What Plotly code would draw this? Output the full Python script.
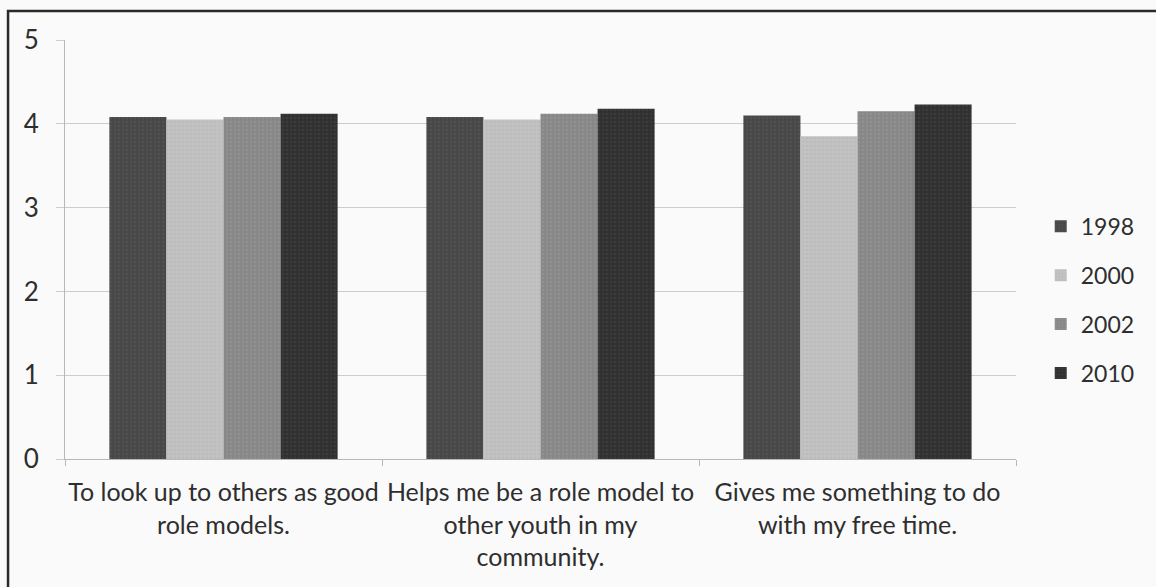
import plotly.graph_objects as go

categories = [
    "To look up to others as good<br>role models.",
    "Helps me be a role model to<br>other youth in my<br>community.",
    "Gives me something to do<br>with my free time.",
]
years = ["1998", "2000", "2002", "2010"]
values_1998 = [4.08, 4.08, 4.10]
values_2000 = [4.05, 4.05, 3.85]
values_2002 = [4.08, 4.12, 4.15]
values_2010 = [4.12, 4.18, 4.23]
series_values = [values_1998, values_2000, values_2002, values_2010]
bar_colors = ["#474747", "#c2c2c2", "#878787", "#303030"]
grain_colors = ["#5a5a5a", "#b3b3b3", "#999999", "#454545"]

FONT = "Lato"
TEXT = "#2e2e2e"
fig = go.Figure()
for year, vals, col, grain in zip(years, series_values, bar_colors, grain_colors):
    fig.add_trace(go.Bar(
        x=categories, y=vals, name=year, legendgroup=year,
        marker=dict(color=col, line=dict(width=0),
                    pattern=dict(shape=".", fgcolor=grain, size=4, solidity=0.3)),
    ))

fig.update_layout(
    width=1156, height=587,
    margin=dict(l=65, r=140, t=40, b=128),
    paper_bgcolor="#fafafa", plot_bgcolor="#fafafa",
    barmode="group", bargap=0.28, bargroupgap=0,
    font=dict(family=FONT, size=25, color=TEXT),
    showlegend=True,
    legend=dict(x=1.026, xanchor="left", y=0.38, yanchor="middle",
                font=dict(size=23, color=TEXT), tracegroupgap=16,
                bgcolor="rgba(0,0,0,0)", itemwidth=30),
    shapes=[dict(type="rect", xref="paper", yref="paper",
                 x0=-0.0599, y0=-0.5, x1=1.3, y1=1.069,
                 line=dict(color="#2a2a2a", width=2.5))],
)
fig.update_xaxes(
    showline=True, linecolor="#b8b8b8", linewidth=1,
    ticks="outside", tickson="boundaries", ticklen=6, tickcolor="#b8b8b8",
    tickfont=dict(size=25, color=TEXT), ticklabelstandoff=11, showgrid=False,
    tickangle=0, automargin=False,
)
fig.update_yaxes(
    range=[0, 5], dtick=1, showgrid=True, gridcolor="#cdcdcd", gridwidth=1,
    showline=True, linecolor="#b8b8b8", linewidth=1,
    ticks="outside", ticklen=8, tickcolor="#cdcdcd",
    tickfont=dict(size=26, color=TEXT), ticklabelstandoff=12, zeroline=False,
    automargin=False,
)

fig.write_html("out.html")
